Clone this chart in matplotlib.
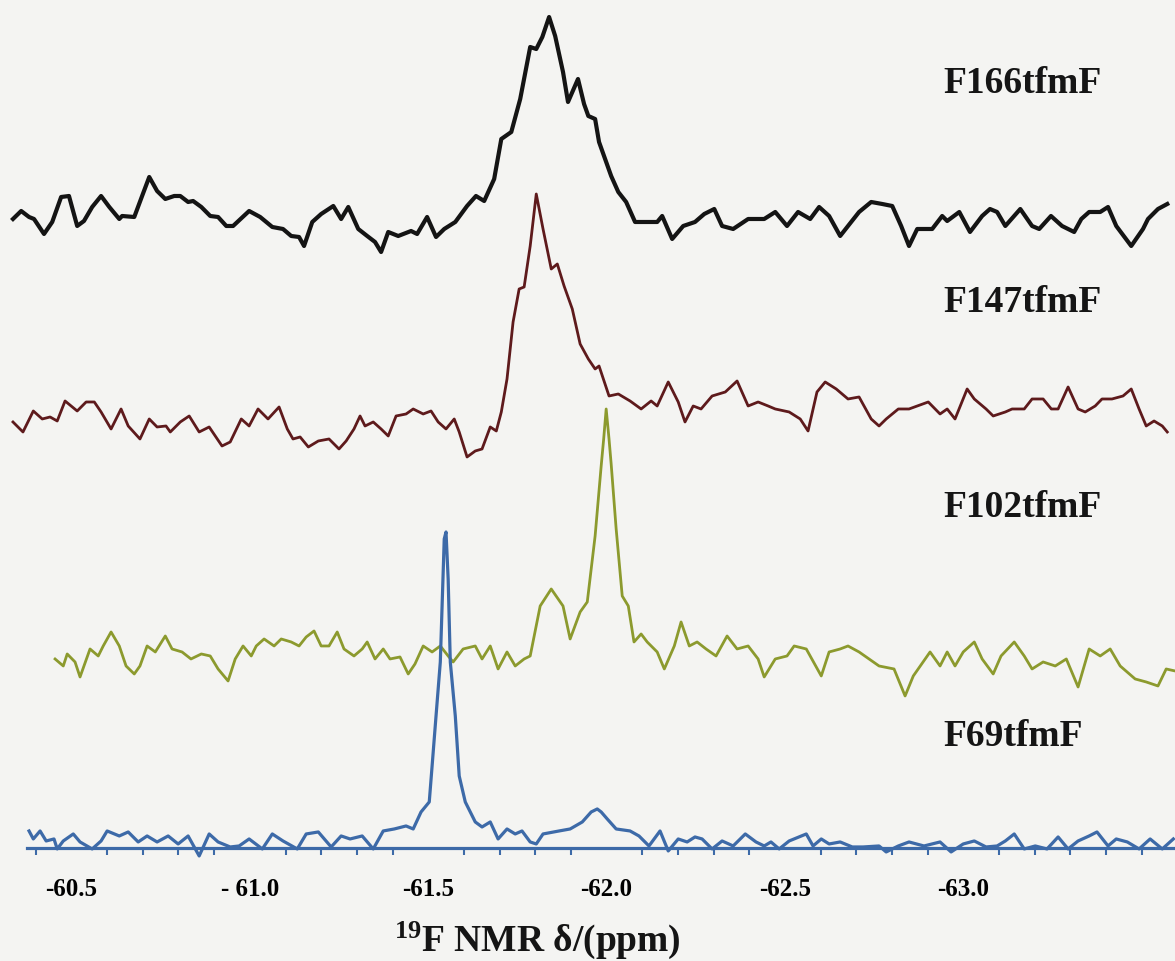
import numpy as np
import matplotlib.pyplot as plt
from matplotlib.ticker import FixedLocator

plt.rcParams['font.family'] = ['Liberation Serif', 'DejaVu Serif']
plt.rcParams['font.weight'] = 'bold'

# 19F spectra, chemical shift (ppm) and intensity (a.u., relative to each baseline)
f166_ppm = [-60.336, -60.359, -60.381, -60.395, -60.423, -60.446, -60.471, -60.493, -60.516, -60.535,
            -60.558, -60.583, -60.606, -60.634, -60.642, -60.676, -60.698, -60.718, -60.740, -60.763,
            -60.788, -60.805, -60.827, -60.841, -60.864, -60.889, -60.911, -60.934, -60.953, -60.998,
            -61.029, -61.063, -61.093, -61.116, -61.138, -61.152, -61.175, -61.200, -61.234, -61.256,
            -61.276, -61.304, -61.329, -61.351, -61.368, -61.388, -61.416, -61.452, -61.469, -61.497,
            -61.522, -61.545, -61.576, -61.609, -61.634, -61.657, -61.685, -61.705, -61.733, -61.758,
            -61.786, -61.803, -61.820, -61.839, -61.856, -61.878, -61.892, -61.920, -61.937, -61.949,
            -61.968, -61.979, -62.013, -62.033, -62.055, -62.080, -62.142, -62.156, -62.184, -62.215,
            -62.248, -62.274, -62.302, -62.324, -62.355, -62.397, -62.442, -62.473, -62.506, -62.537,
            -62.571, -62.596, -62.624, -62.655, -62.677, -62.708, -62.742, -62.773, -62.801, -62.826,
            -62.848, -62.871, -62.913, -62.941, -62.955, -62.989, -63.019, -63.053, -63.075, -63.095,
            -63.118, -63.160, -63.193, -63.213, -63.246, -63.277, -63.311, -63.331, -63.353, -63.384,
            -63.406, -63.429, -63.471, -63.504, -63.518, -63.546, -63.572]
f166_int = [0, 8, 2, 0, -15, -3, 22, 23, -7, -2,
            12, 23, 12, 0, 3, 2, 23, 42, 28, 20,
            23, 23, 17, 18, 12, 3, 2, -7, -7, 8,
            2, -8, -10, -17, -18, -27, -3, 5, 13, 0,
            12, -10, -17, -23, -33, -13, -17, -12, -15, 2,
            -18, -10, -3, 13, 23, 18, 40, 80, 87, 120,
            172, 170, 182, 202, 183, 147, 117, 140, 115, 103,
            100, 77, 43, 27, 17, -3, -3, 3, -20, -7,
            -3, 5, 10, -7, -10, 0, 0, 7, -7, 7,
            0, 12, 3, -17, -7, 7, 17, 15, 13, -7,
            -27, -10, -10, 3, -2, 7, -13, 3, 10, 7,
            -7, 10, -7, -10, 3, -7, -13, 0, 7, 7,
            12, -7, -27, -10, 0, 10, 15]

f147_ppm = [-60.336, -60.364, -60.393, -60.418, -60.440, -60.460, -60.482, -60.516, -60.541, -60.564,
            -60.583, -60.611, -60.639, -60.659, -60.692, -60.718, -60.740, -60.765, -60.777, -60.805,
            -60.830, -60.858, -60.886, -60.922, -60.945, -60.976, -60.998, -61.023, -61.051, -61.082,
            -61.105, -61.121, -61.141, -61.164, -61.192, -61.222, -61.250, -61.270, -61.292, -61.309,
            -61.323, -61.346, -61.368, -61.388, -61.410, -61.438, -61.458, -61.486, -61.508, -61.528,
            -61.550, -61.573, -61.587, -61.609, -61.632, -61.651, -61.674, -61.691, -61.705, -61.721,
            -61.738, -61.755, -61.769, -61.786, -61.803, -61.822, -61.845, -61.862, -61.881, -61.904,
            -61.926, -61.949, -61.968, -61.979, -62.007, -62.033, -62.066, -62.097, -62.125, -62.142,
            -62.173, -62.201, -62.220, -62.243, -62.265, -62.296, -62.333, -62.366, -62.397, -62.425,
            -62.453, -62.473, -62.512, -62.543, -62.565, -62.590, -62.613, -62.644, -62.677, -62.708,
            -62.742, -62.764, -62.784, -62.818, -62.848, -62.871, -62.902, -62.935, -62.955, -62.977,
            -63.011, -63.031, -63.064, -63.084, -63.118, -63.137, -63.171, -63.193, -63.224, -63.247,
            -63.266, -63.294, -63.322, -63.342, -63.370, -63.389, -63.417, -63.448, -63.471, -63.493,
            -63.513, -63.535, -63.558, -63.572]
f147_int = [-8, -18, 3, -5, -3, -7, 13, 3, 12, 12,
            2, -15, 5, -12, -25, -5, -13, -12, -18, -8,
            -2, -18, -13, -32, -28, -5, -12, 5, -5, 7,
            -15, -25, -23, -33, -27, -25, -35, -27, -15, -2,
            -12, -8, -15, -22, -2, 0, 5, 0, 3, -8,
            -15, -5, -18, -43, -37, -35, -13, -17, 2, 35,
            92, 125, 127, 168, 220, 185, 145, 150, 128, 105,
            70, 55, 45, 48, 18, 20, 13, 5, 13, 8,
            32, 12, -8, 8, 5, 18, 22, 33, 8, 12,
            8, 5, 2, -5, -17, 22, 32, 25, 15, 17,
            -5, -12, -5, 5, 5, 8, 12, 0, 5, -5,
            25, 15, 5, -2, 2, 5, 5, 15, 15, 5,
            5, 27, 5, 2, 8, 15, 15, 18, 25, 5,
            -12, -7, -12, -18]

f102_ppm = [-60.454, -60.477, -60.488, -60.510, -60.524, -60.552, -60.575, -60.589, -60.611, -60.634,
            -60.653, -60.676, -60.692, -60.712, -60.735, -60.763, -60.782, -60.810, -60.835, -60.864,
            -60.889, -60.911, -60.939, -60.959, -60.981, -61.004, -61.018, -61.040, -61.068, -61.088,
            -61.116, -61.138, -61.158, -61.180, -61.200, -61.222, -61.245, -61.264, -61.292, -61.315,
            -61.329, -61.351, -61.374, -61.393, -61.421, -61.444, -61.463, -61.486, -61.511, -61.534,
            -61.556, -61.570, -61.598, -61.632, -61.651, -61.674, -61.696, -61.721, -61.744, -61.769,
            -61.786, -61.814, -61.845, -61.878, -61.898, -61.926, -61.946, -61.968, -61.985, -61.992,
            -61.999, -62.007, -62.013, -62.027, -62.044, -62.061, -62.077, -62.097, -62.114, -62.142,
            -62.162, -62.190, -62.209, -62.232, -62.254, -62.279, -62.307, -62.338, -62.366, -62.397,
            -62.425, -62.442, -62.473, -62.506, -62.526, -62.560, -62.602, -62.624, -62.655, -62.677,
            -62.708, -62.736, -62.764, -62.806, -62.837, -62.860, -62.907, -62.935, -62.955, -62.977,
            -63.000, -63.031, -63.053, -63.084, -63.106, -63.143, -63.171, -63.193, -63.224, -63.258,
            -63.289, -63.322, -63.353, -63.384, -63.412, -63.440, -63.482, -63.513, -63.546, -63.569,
            -63.594]
f102_int = [-5, -12, 0, -8, -23, 5, -2, 8, 22, 8,
            -12, -20, -12, 8, 2, 18, 5, 2, -5, 0,
            -2, -15, -27, -5, 8, -2, 8, 15, 8, 15,
            12, 8, 17, 23, 8, 8, 22, 5, -2, 5,
            12, -5, 5, -5, -3, -20, -10, 8, 2, 8,
            -2, -8, 5, 8, -5, 8, -15, 2, -12, -5,
            -2, 48, 65, 48, 15, 42, 52, 118, 188, 215,
            245, 215, 190, 125, 58, 48, 12, 20, 12, 2,
            -15, 8, 32, 8, 12, 5, -2, 18, 5, 8,
            -5, -23, -5, -2, 8, 5, -22, 2, 5, 8,
            2, -5, -12, -15, -42, -22, 2, -12, 2, -12,
            2, 12, -5, -20, -2, 12, -2, -15, -8, -12,
            -5, -33, 5, -2, 5, -12, -25, -28, -32, -15,
            -17]

f69_ppm = [-60.381, -60.393, -60.412, -60.429, -60.451, -60.460, -60.477, -60.505, -60.524, -60.558,
           -60.583, -60.600, -60.634, -60.659, -60.687, -60.712, -60.740, -60.771, -60.799, -60.827,
           -60.858, -60.886, -60.911, -60.945, -60.970, -60.998, -61.035, -61.063, -61.093, -61.133,
           -61.158, -61.192, -61.228, -61.256, -61.281, -61.315, -61.346, -61.374, -61.405, -61.438,
           -61.458, -61.480, -61.503, -61.511, -61.522, -61.534, -61.545, -61.550, -61.556, -61.562,
           -61.576, -61.587, -61.604, -61.632, -61.651, -61.674, -61.696, -61.721, -61.744, -61.763,
           -61.786, -61.803, -61.822, -61.867, -61.898, -61.932, -61.957, -61.974, -61.985, -62.002,
           -62.027, -62.066, -62.091, -62.119, -62.150, -62.173, -62.201, -62.226, -62.248, -62.268,
           -62.296, -62.324, -62.355, -62.389, -62.419, -62.442, -62.461, -62.484, -62.512, -62.560,
           -62.579, -62.602, -62.624, -62.655, -62.689, -62.719, -62.764, -62.784, -62.818, -62.848,
           -62.890, -62.935, -62.966, -63.000, -63.031, -63.064, -63.095, -63.118, -63.143, -63.171,
           -63.202, -63.235, -63.266, -63.294, -63.322, -63.353, -63.375, -63.406, -63.429, -63.460,
           -63.493, -63.524, -63.558, -63.589]
f69_int = [17, 9, 17, 7, 9, -1, 7, 14, 6, -1,
           7, 17, 12, 16, 6, 12, 6, 12, 4, 12,
           -8, 14, 6, 1, 2, 9, -1, 14, 7, -1,
           14, 16, 1, 12, 9, 12, -1, 17, 19, 22,
           19, 36, 46, 82, 132, 186, 309, 316, 269, 186,
           132, 72, 46, 26, 21, 26, 9, 19, 14, 17,
           6, 4, 14, 17, 19, 26, 36, 39, 36, 29,
           19, 17, 12, 2, 17, -3, 9, 6, 11, 9,
           -1, 7, 2, 14, 6, 2, 6, -1, 7, 14,
           2, 9, 4, 6, 1, 1, 2, -4, 2, 6,
           2, 6, -4, 4, 7, 1, 2, 7, 14, -1,
           2, -1, 11, -1, 7, 12, 16, 2, 9, 6,
           -1, 9, -1, 9]

# vertical stacking offset of each spectrum
spectra = [
    ('F166tfmF', f166_ppm, f166_int, 629, '#141414', 3.0),
    ('F147tfmF', f147_ppm, f147_int, 434, '#5e1a1c', 2.0),
    ('F102tfmF', f102_ppm, f102_int, 194, '#8c9a2e', 2.0),
    ('F69tfmF', f69_ppm, f69_int, 0, '#3d6aa8', 2.3),
]
label_y = [0.903, 0.676, 0.463, 0.225]

tick_vals = [-60.5, -61.0, -61.5, -62.0, -62.5, -63.0]
tick_text = ['-60.5', '- 61.0', '-61.5', '-62.0', '-62.5', '-63.0']
minor_vals = np.round(np.arange(-60.4, -63.55, -0.1), 1)

fig = plt.figure(figsize=(11.75, 9.62), dpi=100, facecolor='#f4f4f2')
ax = fig.add_axes([0, 0.1175, 1, 0.8825])
ax.set_facecolor('none')

for (name, ppm, inten, off, col, lw), ly in zip(spectra, label_y):
    ax.plot(ppm, np.asarray(inten) + off, color=col, lw=lw,
            solid_joinstyle='round', clip_on=False)
    fig.text(0.8026, ly, name, fontsize=27, fontweight='bold', color='#151515')

ax.set_xlim(-60.2996, -63.5937)
ax.set_ylim(0, 849)

blue = '#3d6aa8'
for side in ['top', 'right', 'left']:
    ax.spines[side].set_visible(False)
ax.spines['bottom'].set_color(blue)
ax.spines['bottom'].set_linewidth(2.3)
ax.spines['bottom'].set_bounds(-60.375, -63.594)

ax.set_yticks([])
ax.set_xticks(tick_vals, tick_text)
ax.xaxis.set_minor_locator(FixedLocator(minor_vals))
ax.tick_params(axis='x', which='major', length=0, pad=21, labelsize=18)
ax.tick_params(axis='x', which='minor', direction='out', length=5, width=1.5, color=blue)
for t in ax.get_xticklabels():
    t.set_fontweight('bold')

fig.text(0.457, 0.0115, r'$\mathregular{^{19}}$F NMR δ/(ppm)', fontsize=27,
         fontweight='bold', ha='center', va='baseline', color='#151515')

fig.savefig('out.png', dpi=100, facecolor=fig.get_facecolor())
